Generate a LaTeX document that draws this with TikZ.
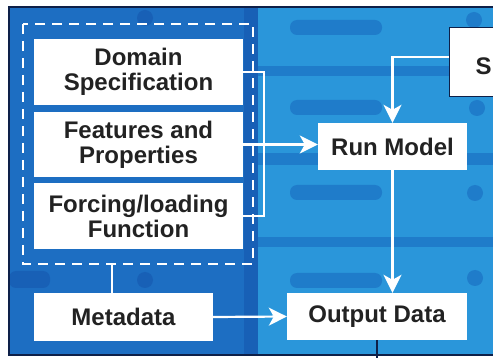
\documentclass[tikz,border=0pt]{standalone}
\usepackage{fontspec}
\setsansfont{Liberation Sans}
\usepackage{tikz}
\usetikzlibrary{arrows.meta,positioning,calc}
\definecolor{bgblue}{RGB}{42,150,218}
\definecolor{bgdark}{RGB}{29,110,194}
\definecolor{bandblue}{RGB}{31,124,202}
\definecolor{banddark}{RGB}{24,96,182}
\definecolor{framecol}{RGB}{14,32,72}
\definecolor{textgray}{RGB}{34,34,34}
\tikzset{
  box/.style={fill=white,inner sep=0pt,align=center,text=textgray,
    font=\sffamily\bfseries\fontsize{24}{25}\selectfont},
  link/.style={white,line width=2.2pt},
  arrow/.style={link,-{Stealth[length=18pt,width=18pt,inset=5pt]}},
  band/.style={fill=bandblue},
}
\begin{document}
\begin{tikzpicture}[x=1pt,y=-1pt]
\clip (0,0) rectangle (493,358);
\fill[white] (0,0) rectangle (493,358);
\fill[bgblue] (9,7) rectangle (510,355);
\fill[bgdark] (9,7) rectangle (258,355);
\fill[banddark] (244,7) rectangle (258,355);
\foreach \y/\h in {66/10,153/12,237/10}
  \fill[band] (258,\y) rectangle (510,\y+\h);
\foreach \y in {20,100,185,273}
  \fill[band,rounded corners=7pt] (290,\y) rectangle (382,\y+15);
\foreach \p in {(474,20),(477,108),(475,193),(475,278)}
  \fill[band] \p circle (8);
\foreach \p in {(145,18),(145,280)}
  \fill[banddark] \p circle (8);
\fill[banddark,rounded corners=7pt] (9,271) rectangle (50,288);
\draw[framecol,line width=2.5pt] (9,7) rectangle (520,355);
\draw[white,line width=2pt,dash pattern=on 10pt off 7pt] (23,24) rectangle (253,264);

\node[box,minimum width=209pt,minimum height=66pt] (dom) at (138.5,72) {Domain\\Specification};
\node[box,minimum width=209pt,minimum height=65pt] (feat) at (138.5,144.5) {Features and\\Properties};
\node[box,minimum width=209pt,minimum height=66pt] (forc) at (138.5,216) {Forcing/loading\\Function};
\node[box,minimum width=179pt,minimum height=48pt] (meta) at (123.5,317) {Metadata};
\node[box,minimum width=149pt,minimum height=47pt] (run) at (392.5,146.5) {Run Model};
\node[box,minimum width=180pt,minimum height=47pt] (out) at (377,316.5) {Output Data};
\node[box,draw=framecol,line width=1pt,anchor=west,minimum height=69pt,
  inner xsep=26pt,text width=124pt,align=left] (setup) at (449,62.5) {\mbox{}\\S};

\draw[link] (dom.east) -- ++(21,0) |- (forc.east);
\draw[arrow] (feat.east) -- (feat.east -| run.west);
\draw[arrow] ([yshift=5.5pt]setup.west) -| (run.north);
\draw[arrow] (run.south) -- (run.south |- out.north);
\coordinate (metatap) at (112,264);
\draw[link] (meta.north -| metatap) -- (metatap);
\draw[arrow] (meta.east) -- (out.west);
\draw[framecol,line width=1.5pt] (out.south) -- ++(0,20);
\end{tikzpicture}
\end{document}
